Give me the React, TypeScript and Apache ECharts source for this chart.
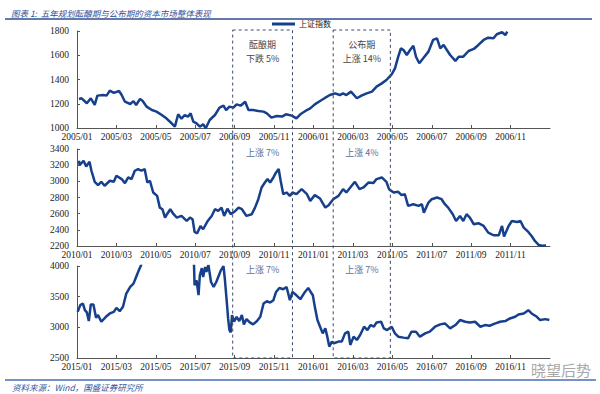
import React, { useEffect, useRef } from "react";
import * as echarts from "echarts";

const SERIES_NAME = "上证指数";
const TITLE = "图表 1:  五年规划酝酿期与公布期的资本市场整体表现";
const SOURCE = "资料来源：Wind，国盛证券研究所";
const WATERMARK = "晓望后势";

// x-axis tick labels (every two months), as printed in the source
const p1Labels = ["2005/01", "2005/03", "2005/05", "2005/07", "2006/09", "2005/11", "2006/01", "2006/03", "2006/05", "2006/07", "2006/09", "2006/11"];
const p2Labels = ["2010/01", "2010/03", "2010/05", "2010/07", "2010/09", "2010/11", "2011/01", "2011/03", "2011/05", "2011/07", "2011/09", "2011/11"];
const p3Labels = ["2015/01", "2015/03", "2015/05", "2015/07", "2015/09", "2015/11", "2016/01", "2016/03", "2016/05", "2016/07", "2016/09", "2016/11"];
const panelStartYears = [2005, 2010, 2015];

// Panel 1: 2005-2006
const p1Dates = [
  "2005-01-04", "2005-01-08", "2005-01-16", "2005-01-22", "2005-01-28", "2005-02-02", "2005-02-11", "2005-02-16", "2005-02-21", "2005-02-27",
  "2005-03-05", "2005-03-09", "2005-03-14", "2005-03-22", "2005-03-27", "2005-04-01", "2005-04-07", "2005-04-11", "2005-04-17", "2005-04-25",
  "2005-05-02", "2005-05-10", "2005-05-17", "2005-05-25", "2005-05-30", "2005-06-05", "2005-06-10", "2005-06-15", "2005-06-20", "2005-06-24",
  "2005-06-28", "2005-07-03", "2005-07-08", "2005-07-13", "2005-07-17", "2005-07-23", "2005-08-01", "2005-08-08", "2005-08-14", "2005-08-18",
  "2005-08-23", "2005-08-29", "2005-09-04", "2005-09-10", "2005-09-17", "2005-09-22", "2005-09-29", "2005-10-07", "2005-10-15", "2005-10-20",
  "2005-10-27", "2005-11-05", "2005-11-13", "2005-11-19", "2005-11-28", "2005-12-05", "2005-12-11", "2005-12-21", "2005-12-26", "2006-01-03",
  "2006-01-11", "2006-01-19", "2006-01-26", "2006-02-04", "2006-02-11", "2006-02-16", "2006-02-21", "2006-02-28", "2006-03-07", "2006-03-14",
  "2006-03-22", "2006-03-30", "2006-04-07", "2006-04-15", "2006-04-22", "2006-04-30", "2006-05-05", "2006-05-10", "2006-05-14", "2006-05-18",
  "2006-05-23", "2006-05-28", "2006-06-03", "2006-06-07", "2006-06-12", "2006-06-18", "2006-06-26", "2006-07-03", "2006-07-09", "2006-07-14",
  "2006-07-19", "2006-07-24", "2006-07-29", "2006-08-07", "2006-08-12", "2006-08-19", "2006-08-27", "2006-09-05", "2006-09-12", "2006-09-20",
  "2006-09-27", "2006-10-05", "2006-10-10", "2006-10-18", "2006-10-23", "2006-10-26",
];
const p1Values = [
  1239, 1245, 1204, 1245, 1190, 1267, 1272, 1267, 1308, 1290,
  1305, 1272, 1217, 1198, 1222, 1190, 1240, 1222, 1176, 1148,
  1135, 1107, 1080, 1039, 1011, 1113, 1076, 1107, 1094, 1121,
  1053, 1039, 1011, 1031, 998, 1066, 1107, 1168, 1184, 1148,
  1176, 1168, 1195, 1184, 1217, 1148, 1148, 1140, 1135, 1121,
  1086, 1099, 1094, 1113, 1102, 1080, 1113, 1148, 1162, 1195,
  1223, 1250, 1272, 1286, 1272, 1286, 1272, 1300, 1245, 1267,
  1286, 1300, 1341, 1368, 1396, 1443, 1492, 1588, 1657, 1643,
  1602, 1643, 1679, 1588, 1534, 1575, 1630, 1726, 1740, 1657,
  1685, 1643, 1602, 1553, 1588, 1588, 1635, 1652, 1685, 1726,
  1745, 1740, 1773, 1790, 1767, 1795,
];

// Panel 2: 2010-2011
const p2Dates = [
  "2010-01-04", "2010-01-05", "2010-01-11", "2010-01-15", "2010-01-20", "2010-01-23", "2010-01-28", "2010-02-03", "2010-02-08", "2010-02-13",
  "2010-02-21", "2010-02-27", "2010-03-01", "2010-03-09", "2010-03-14", "2010-03-19", "2010-03-24", "2010-03-29", "2010-04-04", "2010-04-09",
  "2010-04-14", "2010-04-18", "2010-04-22", "2010-04-27", "2010-05-03", "2010-05-07", "2010-05-11", "2010-05-15", "2010-05-18", "2010-05-23",
  "2010-05-28", "2010-06-03", "2010-06-10", "2010-06-18", "2010-06-23", "2010-06-27", "2010-06-30", "2010-07-04", "2010-07-09", "2010-07-13",
  "2010-07-20", "2010-07-26", "2010-08-01", "2010-08-06", "2010-08-11", "2010-08-15", "2010-08-20", "2010-08-25", "2010-09-02", "2010-09-07",
  "2010-09-12", "2010-09-19", "2010-09-27", "2010-10-02", "2010-10-07", "2010-10-12", "2010-10-17", "2010-10-21", "2010-10-25", "2010-10-30",
  "2010-11-04", "2010-11-08", "2010-11-11", "2010-11-15", "2010-11-20", "2010-11-25", "2010-11-29", "2010-12-05", "2010-12-13", "2010-12-21",
  "2010-12-26", "2011-01-03", "2011-01-11", "2011-01-19", "2011-01-24", "2011-02-01", "2011-02-09", "2011-02-16", "2011-02-21", "2011-02-27",
  "2011-03-04", "2011-03-11", "2011-03-17", "2011-03-25", "2011-04-02", "2011-04-07", "2011-04-15", "2011-04-22", "2011-04-26", "2011-05-03",
  "2011-05-10", "2011-05-15", "2011-05-20", "2011-05-25", "2011-06-03", "2011-06-11", "2011-06-16", "2011-06-19", "2011-06-26", "2011-07-01",
  "2011-07-09", "2011-07-16", "2011-07-21", "2011-07-26", "2011-08-03", "2011-08-08", "2011-08-14", "2011-08-19", "2011-08-24", "2011-08-29",
  "2011-09-05", "2011-09-12", "2011-09-20", "2011-09-27", "2011-10-05", "2011-10-13", "2011-10-18", "2011-10-21", "2011-10-28", "2011-11-03",
  "2011-11-11", "2011-11-16", "2011-11-21", "2011-11-28", "2011-12-03", "2011-12-08", "2011-12-14", "2011-12-19", "2011-12-25",
];
const p2Values = [
  3255, 3201, 3255, 3184, 3242, 3131, 2994, 2953, 2994, 2945,
  3007, 2994, 3069, 3028, 2978, 3048, 3028, 3131, 3152, 3131,
  3152, 2986, 3007, 2862, 2820, 2675, 2655, 2551, 2593, 2655,
  2593, 2551, 2572, 2510, 2551, 2530, 2374, 2357, 2448, 2407,
  2510, 2572, 2655, 2634, 2675, 2572, 2662, 2593, 2634, 2675,
  2655, 2572, 2593, 2675, 2779, 2924, 2986, 3028, 2986, 3048,
  3110, 3152, 3007, 2841, 2862, 2820, 2862, 2841, 2903, 2841,
  2758, 2829, 2787, 2675, 2705, 2779, 2820, 2903, 2862, 2924,
  2994, 2903, 2924, 2986, 2978, 3028, 3048, 2994, 2903, 2862,
  2870, 2829, 2841, 2696, 2717, 2696, 2717, 2613, 2737, 2779,
  2800, 2779, 2717, 2675, 2593, 2510, 2572, 2510, 2593, 2551,
  2469, 2482, 2448, 2365, 2333, 2333, 2448, 2316, 2448, 2510,
  2497, 2510, 2427, 2374, 2324, 2262, 2212, 2204, 2206,
];

// Panel 3: 2015-2016 (values above 4000 are outside the visible range)
const p3Dates = [
  "2015-01-02", "2015-01-06", "2015-01-10", "2015-01-13", "2015-01-16", "2015-01-19", "2015-01-22", "2015-01-26", "2015-01-30", "2015-02-03",
  "2015-02-08", "2015-02-15", "2015-02-21", "2015-02-27", "2015-03-01", "2015-03-06", "2015-03-11", "2015-03-16", "2015-03-22", "2015-03-27",
  "2015-04-01", "2015-04-05", "2015-04-08", "2015-04-13", "2015-04-22", "2015-05-01", "2015-05-10", "2015-05-19", "2015-05-28", "2015-06-07",
  "2015-06-13", "2015-06-19", "2015-06-25", "2015-06-29", "2015-06-30", "2015-07-03", "2015-07-06", "2015-07-08", "2015-07-11", "2015-07-13",
  "2015-07-16", "2015-07-18", "2015-07-21", "2015-07-25", "2015-07-29", "2015-08-03", "2015-08-06", "2015-08-10", "2015-08-14", "2015-08-16",
  "2015-08-19", "2015-08-21", "2015-08-23", "2015-08-25", "2015-08-27", "2015-08-30", "2015-09-04", "2015-09-08", "2015-09-12", "2015-09-15",
  "2015-09-19", "2015-09-24", "2015-09-29", "2015-10-05", "2015-10-10", "2015-10-15", "2015-10-20", "2015-10-25", "2015-10-30", "2015-11-04",
  "2015-11-09", "2015-11-15", "2015-11-20", "2015-11-25", "2015-11-29", "2015-12-05", "2015-12-11", "2015-12-18", "2015-12-23", "2015-12-26",
  "2015-12-30", "2016-01-03", "2016-01-07", "2016-01-11", "2016-01-15", "2016-01-19", "2016-01-22", "2016-01-25", "2016-01-29", "2016-02-02",
  "2016-02-09", "2016-02-14", "2016-02-19", "2016-02-24", "2016-02-27", "2016-03-02", "2016-03-07", "2016-03-12", "2016-03-18", "2016-03-23",
  "2016-03-28", "2016-04-03", "2016-04-07", "2016-04-14", "2016-04-18", "2016-04-23", "2016-04-30", "2016-05-05", "2016-05-10", "2016-05-18",
  "2016-05-25", "2016-05-30", "2016-06-07", "2016-06-13", "2016-06-21", "2016-06-28", "2016-07-06", "2016-07-14", "2016-07-21", "2016-07-29",
  "2016-08-07", "2016-08-14", "2016-08-22", "2016-08-29", "2016-09-07", "2016-09-15", "2016-09-22", "2016-09-29", "2016-10-08", "2016-10-15",
  "2016-10-23", "2016-10-30", "2016-11-08", "2016-11-13", "2016-11-21", "2016-11-28", "2016-12-03", "2016-12-11", "2016-12-16", "2016-12-24",
  "2016-12-30",
];
const p3Values = [
  3253, 3362, 3388, 3281, 3243, 3103, 3372, 3372, 3156, 3200,
  3091, 3172, 3226, 3253, 3318, 3264, 3335, 3550, 3658, 3712,
  3820, 3929, 3999, 4150, 4400, 4450, 4300, 4400, 4700, 5100,
  5000, 4500, 4300, 4053, 3686, 3767, 3524, 3848, 3966, 3820,
  3983, 3902, 4020, 3739, 3658, 3739, 3820, 3929, 3999, 3793,
  3415, 3145, 2957, 2919, 3200, 3091, 3172, 3102, 3199, 3048,
  3134, 3080, 3048, 3102, 3172, 3388, 3426, 3404, 3442, 3577,
  3642, 3620, 3658, 3443, 3577, 3523, 3458, 3577, 3642, 3589,
  3524, 3334, 3119, 3010, 2902, 2983, 2848, 2686, 2767, 2740,
  2767, 2767, 2902, 2929, 2713, 2848, 2794, 2875, 3010, 2956,
  3037, 3010, 3080, 3091, 2983, 2956, 3010, 2902, 2848, 2832,
  2821, 2929, 2929, 2848, 2902, 2929, 3010, 3048, 3064, 2983,
  3037, 3119, 3091, 3080, 3091, 3010, 3037, 3026, 3064, 3091,
  3102, 3145, 3172, 3210, 3226, 3280, 3226, 3172, 3119, 3134,
  3119,
];

// Planning periods (drawn as dashed boxes across all three panels, dates on panel-1 time scale)
const periodStarts = ["2005-08-28", "2006-02-01"];
const periodEnds = ["2005-11-29", "2006-04-28"];
const p1NoteLine1 = ["酝酿期", "公布期"];
const p1NoteLine2 = ["下跌 5%", "上涨 14%"];
const p2Notes = ["上涨 7%", "上涨 4%"];
const p3Notes = ["上涨 7%", "上涨 7%"];

const yRanges = [
  { min: 1000, max: 1800, interval: 200 },
  { min: 2200, max: 3400, interval: 200 },
  { min: 2500, max: 4000, interval: 500 },
];

function monthOffset(date: string, startYear: number): number {
  const [y, m, d] = date.split("-").map(Number);
  return (y - startYear) * 12 + (m - 1) + (d - 1) / 30;
}

const SERIF = '"Liberation Serif", "Times New Roman", serif';
const CJK = '"Noto Sans CJK SC", sans-serif';
const LINE_COLOR = "#17408c";
const AXIS_COLOR = "#555";

export default function App() {
  const ref = useRef<HTMLDivElement>(null);

  useEffect(() => {
    if (!ref.current) return;
    const chart = echarts.init(ref.current, undefined, { renderer: "svg" });
    const labels = [p1Labels, p2Labels, p3Labels];
    const dates = [p1Dates, p2Dates, p3Dates];
    const values = [p1Values, p2Values, p3Values];
    const grids = [
      { left: 77, right: 50, top: 31, height: 97 },
      { left: 77, right: 50, top: 149, height: 97 },
      { left: 77, right: 50, top: 266, height: 92 },
    ];

    chart.setOption({
      animation: false,
      title: {
        text: TITLE,
        left: 6,
        top: 4,
        textStyle: { fontSize: 8.5, fontStyle: "italic", fontWeight: "normal", color: "#30509a", fontFamily: CJK },
      },
      legend: {
        data: [SERIES_NAME],
        left: 272,
        top: 20,
        itemWidth: 23,
        itemHeight: 3,
        itemGap: 4,
        icon: "rect",
        textStyle: { fontSize: 8, color: "#222", fontFamily: CJK, padding: [0, 0, 0, -1] },
        padding: 0,
      },
      grid: grids,
      xAxis: grids.map((_, i) => ({
        type: "value",
        gridIndex: i,
        min: 0,
        max: 24,
        interval: 2,
        axisLine: { show: true, onZero: false, lineStyle: { color: AXIS_COLOR, width: 1 } },
        axisTick: { show: true, inside: true, length: 3, lineStyle: { color: AXIS_COLOR } },
        splitLine: { show: false },
        axisLabel: {
          margin: 4,
          fontSize: 9.5,
          color: "#222",
          fontFamily: SERIF,
          showMaxLabel: false,
          formatter: (v: number) => labels[i][Math.round(v / 2)] ?? "",
        },
      })),
      yAxis: yRanges.map((r, i) => ({
        type: "value",
        gridIndex: i,
        min: r.min,
        max: r.max,
        interval: r.interval,
        axisLine: { show: true, lineStyle: { color: AXIS_COLOR, width: 1 } },
        axisTick: { show: true, inside: true, length: 3, lineStyle: { color: AXIS_COLOR } },
        splitLine: { show: false },
        axisLabel: { margin: 8, fontSize: 9.5, color: "#222", fontFamily: SERIF, formatter: (v: number) => String(v) },
      })),
      series: values.map((vals, i) => ({
        name: SERIES_NAME,
        type: "line",
        xAxisIndex: i,
        yAxisIndex: i,
        showSymbol: false,
        clip: true,
        color: LINE_COLOR,
        lineStyle: { color: LINE_COLOR, width: 2.5 },
        data: vals.map((v, k) => [monthOffset(dates[i][k], panelStartYears[i]), v]),
      })),
    });

    // annotations positioned from the axes
    const px = (d: string) => chart.convertToPixel({ xAxisIndex: 0 }, monthOffset(d, panelStartYears[0])) as number;
    const py = (axis: number, v: number) => chart.convertToPixel({ yAxisIndex: axis }, v) as number;
    const top = py(0, yRanges[0].max) - 1;
    const bottom = py(2, yRanges[2].min);
    const graphics: any[] = [];
    const noteText = (text: string, x: number, y: number, fill: string) => ({
      type: "text",
      x,
      y,
      style: { text, fill, font: `9px ${CJK}`, align: "center", verticalAlign: "middle" },
    });
    periodStarts.forEach((s, k) => {
      const x0 = px(s);
      const x1 = px(periodEnds[k]);
      const cx = (x0 + x1) / 2;
      graphics.push({
        type: "rect",
        shape: { x: x0, y: top, width: x1 - x0, height: bottom - top },
        style: { fill: "none", stroke: "#3c4a66", lineWidth: 1, lineDash: [3, 3] },
        z: 10,
      });
      graphics.push(noteText(p1NoteLine1[k], cx, py(0, 1690), "#444"));
      graphics.push(noteText(p1NoteLine2[k], cx, py(0, 1570), "#444"));
      graphics.push(noteText(p2Notes[k], cx, py(1, 3355), "#5b6f98"));
      graphics.push(noteText(p3Notes[k], cx, py(2, 3935), "#5b6f98"));
    });
    graphics.push({
      type: "line",
      shape: { x1: 5, y1: 19, x2: 592, y2: 19 },
      style: { stroke: "#2e4c8e", lineWidth: 1.5 },
    });
    graphics.push({
      type: "line",
      shape: { x1: 5, y1: 380, x2: 596, y2: 380 },
      style: { stroke: "#4a6db3", lineWidth: 1.5 },
    });
    graphics.push({
      type: "text",
      x: 12,
      y: 387,
      style: { text: SOURCE, fill: "#34559e", font: `italic 8.5px ${CJK}`, verticalAlign: "middle" },
    });
    graphics.push({
      type: "text",
      x: 531,
      y: 369,
      z: 20,
      style: {
        text: WATERMARK,
        fill: "#a8a8a8",
        font: `15px ${CJK}`,
        verticalAlign: "middle",
      },
    });
    chart.setOption({ graphic: graphics });

    return () => chart.dispose();
  }, []);

  return <div ref={ref} style={{ width: 600, height: 394, position: "absolute", left: 0, top: 0 }} />;
}
